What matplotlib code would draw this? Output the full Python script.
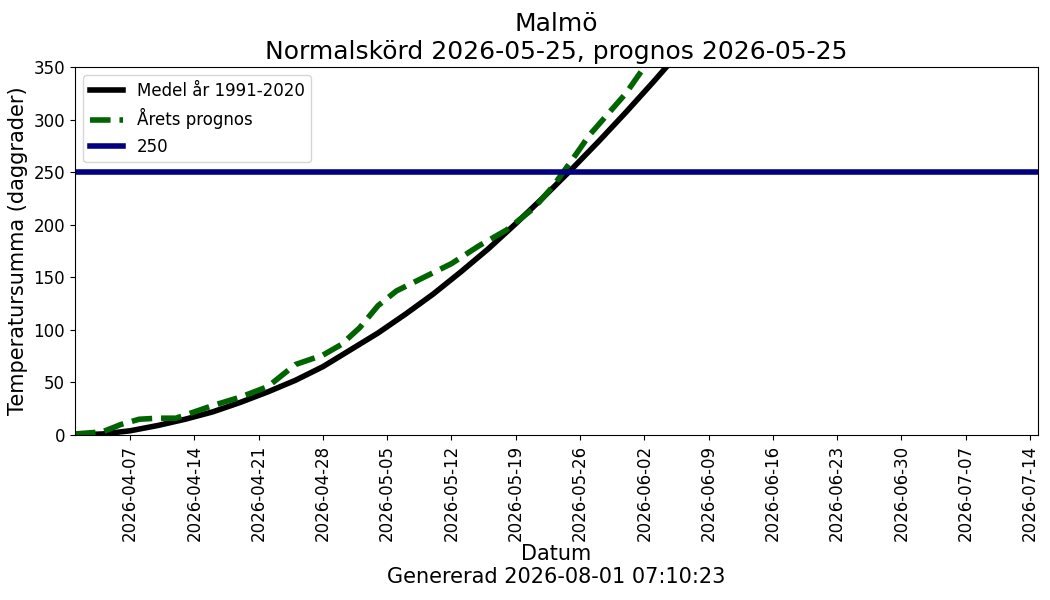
import matplotlib
matplotlib.use("Agg")
import matplotlib.pyplot as plt
import matplotlib.dates as mdates
import numpy as np
import pandas as pd

# Mean 1991-2020 cumulative temperature sum
mean_dates = ["2026-04-01", "2026-04-04", "2026-04-07", "2026-04-10", "2026-04-13",
              "2026-04-16", "2026-04-19", "2026-04-22", "2026-04-25", "2026-04-28",
              "2026-05-01", "2026-05-04", "2026-05-07", "2026-05-10", "2026-05-13",
              "2026-05-16", "2026-05-19", "2026-05-22", "2026-05-25", "2026-05-28",
              "2026-05-31", "2026-06-03", "2026-06-06", "2026-06-09"]
mean_values = [0, 1, 4, 9, 15, 22, 31, 41, 52, 65,
               81, 97, 115, 134, 155, 177, 201, 226, 252, 279,
               307, 336, 366, 397]

# This year's forecast
prog_dates = ["2026-04-01", "2026-04-04", "2026-04-06", "2026-04-08", "2026-04-10",
              "2026-04-12", "2026-04-14", "2026-04-16", "2026-04-19", "2026-04-22",
              "2026-04-25", "2026-04-28", "2026-04-30", "2026-05-02", "2026-05-04",
              "2026-05-06", "2026-05-09", "2026-05-12", "2026-05-15", "2026-05-18",
              "2026-05-21", "2026-05-23", "2026-05-25", "2026-05-27", "2026-05-29",
              "2026-05-31", "2026-06-02", "2026-06-04"]
prog_values = [1, 3, 10, 15, 16, 16, 22, 28, 36, 46,
               67, 76, 86, 102, 123, 137, 150, 163, 180, 195,
               216, 236, 260, 285, 305, 325, 350, 372]

threshold = 250
threshold_label = "250"

title = "Malmö\nNormalskörd 2026-05-25, prognos 2026-05-25"
xlabel = "Datum\nGenererad 2026-08-01 07:10:23"
ylabel = "Temperatursumma (daggrader)"

tick_dates = pd.date_range("2026-04-07", "2026-07-14", freq="7D")

fig = plt.figure(figsize=(10.5, 6), dpi=100)
ax = fig.add_axes([0.0714, 0.275, 0.9172, 0.6133])

ax.plot(pd.to_datetime(mean_dates), mean_values, color="black", linewidth=4,
        label="Medel år 1991-2020")
ax.plot(pd.to_datetime(prog_dates), prog_values, color="darkgreen", linewidth=4,
        linestyle="--", label="Årets prognos")
ax.axhline(threshold, color="navy", linewidth=4, label=threshold_label)

ax.set_xlim(pd.Timestamp("2026-04-01"), pd.Timestamp("2026-07-14 21:00"))
ax.set_ylim(0, 350)
ax.set_yticks(np.arange(0, 351, 50))
ax.set_xticks(tick_dates)
ax.xaxis.set_major_formatter(mdates.DateFormatter("%Y-%m-%d"))
ax.tick_params(axis="x", labelrotation=90, labelsize=12)
ax.tick_params(axis="y", labelsize=12)

ax.set_title(title, fontsize=18)
ax.set_xlabel(xlabel, fontsize=15, labelpad=2)
ax.set_ylabel(ylabel, fontsize=15)
ax.legend(loc="upper left", fontsize=12)

fig.savefig("out.png", dpi=100)
